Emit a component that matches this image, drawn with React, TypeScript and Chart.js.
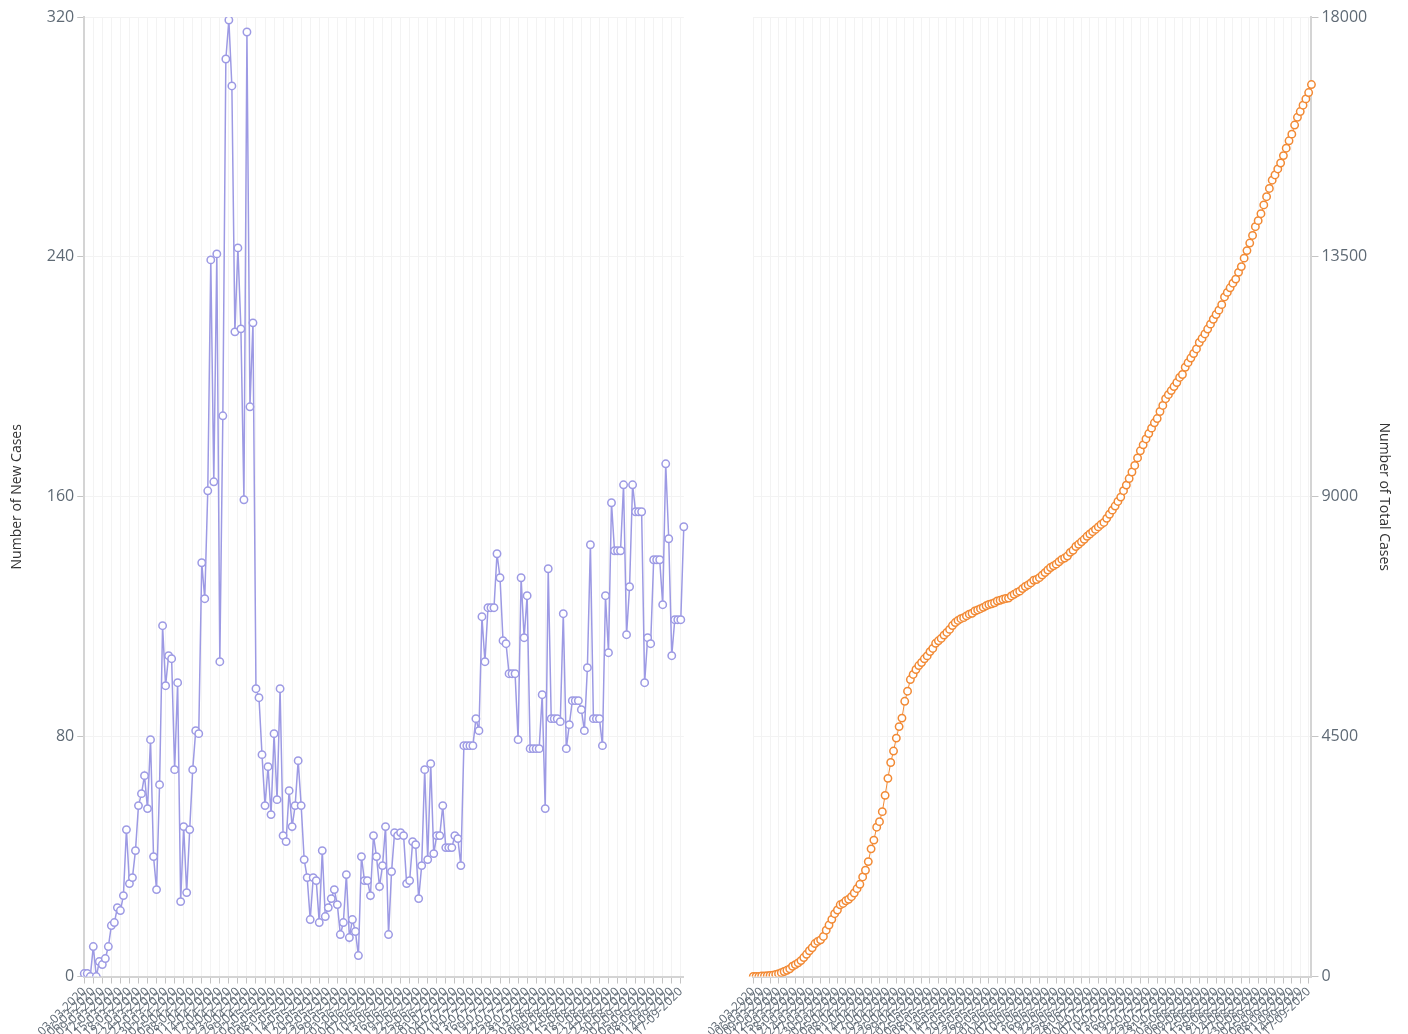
import React, { useEffect, useRef } from 'react';
import { Chart, registerables } from 'chart.js';

Chart.register(...registerables);

// ---- data ----
const START_YEAR = 2020;
const START_MONTH = 3; // March
const START_DAY = 3;

const newCases: number[] = [
  1, 1, 0, 10, 0, 5, 4, 6, 10, 17,
  18, 23, 22, 27, 49, 31, 33, 42, 57, 61,
  67, 56, 79, 40, 29, 64, 117, 97, 107, 106,
  69, 98, 25, 50, 28, 49, 69, 82, 81, 138,
  126, 162, 239, 165, 241, 105, 187, 306, 319, 297,
  215, 243, 216, 159, 315, 190, 218, 96, 93, 74,
  57, 70, 54, 81, 59, 96, 47, 45, 62, 50,
  57, 72, 57, 39, 33, 19, 33, 32, 18, 42,
  20, 23, 26, 29, 24, 14, 18, 34, 13, 19,
  15, 7, 40, 32, 32, 27, 47, 40, 30, 37,
  50, 14, 35, 48, 47, 48, 47, 31, 32, 45,
  44, 26, 37, 69, 39, 71, 41, 47, 47, 57,
  43, 43, 43, 47, 46, 37, 77, 77, 77, 77,
  86, 82, 120, 105, 123, 123, 123, 141, 133, 112,
  111, 101, 101, 101, 79, 133, 113, 127, 76, 76,
  76, 76, 94, 56, 136, 86, 86, 86, 85, 121,
  76, 84, 92, 92, 92, 89, 82, 103, 144, 86,
  86, 86, 77, 127, 108, 158, 142, 142, 142, 164,
  114, 130, 164, 155, 155, 155, 98, 113, 111, 139,
  139, 139, 124, 171, 146, 107, 119, 119, 119, 150,
];

const totalCases: number[] = [
  1, 2, 2, 12, 12, 17, 21, 27, 37, 54,
  72, 95, 117, 144, 193, 224, 257, 299, 356, 417,
  484, 540, 619, 659, 688, 752, 869, 966, 1073, 1179,
  1248, 1346, 1371, 1421, 1449, 1498, 1567, 1649, 1730, 1868,
  1994, 2156, 2395, 2560, 2801, 2906, 3093, 3399, 3718, 4015,
  4230, 4473, 4689, 4848, 5163, 5353, 5571, 5667, 5760, 5834,
  5891, 5961, 6015, 6096, 6155, 6251, 6298, 6343, 6405, 6455,
  6512, 6584, 6641, 6680, 6713, 6732, 6765, 6797, 6815, 6857,
  6877, 6900, 6926, 6955, 6979, 6993, 7011, 7045, 7058, 7077,
  7092, 7099, 7139, 7171, 7203, 7230, 7277, 7317, 7347, 7384,
  7434, 7448, 7483, 7531, 7578, 7626, 7673, 7704, 7736, 7781,
  7825, 7851, 7888, 7957, 7996, 8067, 8108, 8155, 8202, 8259,
  8302, 8345, 8388, 8435, 8481, 8518, 8595, 8672, 8749, 8826,
  8912, 8994, 9114, 9219, 9342, 9465, 9588, 9729, 9862, 9974,
  10085, 10186, 10287, 10388, 10467, 10600, 10713, 10840, 10916, 10992,
  11068, 11144, 11238, 11294, 11430, 11516, 11602, 11688, 11773, 11894,
  11970, 12054, 12146, 12238, 12330, 12419, 12501, 12604, 12748, 12834,
  12920, 13006, 13083, 13210, 13318, 13476, 13618, 13760, 13902, 14066,
  14180, 14310, 14474, 14629, 14784, 14939, 15037, 15150, 15261, 15400,
  15539, 15678, 15802, 15973, 16119, 16226, 16345, 16464, 16583, 16733,
];

const pad2 = (n: number) => (n < 10 ? '0' + n : '' + n);
const dateLabels: string[] = newCases.map((_, i) => {
  const d = new Date(Date.UTC(START_YEAR, START_MONTH - 1, START_DAY + i));
  return `${pad2(d.getUTCDate())}-${pad2(d.getUTCMonth() + 1)}-${d.getUTCFullYear()}`;
});

const newTicks = [0, 80, 160, 240, 320];
const totalTicks = [0, 4500, 9000, 13500, 18000];

const PURPLE = '#9d9ae4';
const ORANGE = '#f28a35';
const FONT = "'Open Sans', 'DejaVu Sans', sans-serif";
const GRID = '#f3f3f3';
const AXIS = '#d4d4d4';
const TICKMARK = '#c4c4c4';
const TICK_TEXT = '#5f6a75';

function xScale() {
  return {
    type: 'category' as const,
    offset: false,
    grid: { color: GRID, tickColor: TICKMARK, tickLength: 7, lineWidth: 1 },
    border: { color: AXIS, width: 2 },
    ticks: {
      autoSkip: false,
      maxRotation: 45,
      minRotation: 45,
      padding: 1,
      color: TICK_TEXT,
      font: { family: FONT, size: 12 },
      callback: function (this: any, val: any, index: number) {
        return index % 3 === 0 ? this.getLabelForValue(val) : null;
      },
    },
  };
}

function yScale(ticks: number[], title: string, position: 'left' | 'right', titlePad: any) {
  return {
    position,
    min: ticks[0],
    max: ticks[ticks.length - 1],
    afterBuildTicks: (scale: any) => {
      scale.ticks = ticks.map((v) => ({ value: v }));
    },
    grid: { color: GRID, tickColor: TICKMARK, tickLength: 7 },
    border: { color: AXIS, width: 2 },
    ticks: {
      color: TICK_TEXT,
      font: { family: FONT, size: 16 },
      padding: 3,
      callback: (v: any) => String(v),
    },
    title: {
      display: true,
      text: title,
      color: '#333',
      font: { family: FONT, size: 14 },
      padding: titlePad,
    },
  };
}

function useChart(ref: React.RefObject<HTMLCanvasElement>, make: () => any) {
  useEffect(() => {
    if (!ref.current) return;
    const chart = new Chart(ref.current, make());
    return () => chart.destroy();
  }, []);
}

export default function App() {
  const leftRef = useRef<HTMLCanvasElement>(null);
  const rightRef = useRef<HTMLCanvasElement>(null);

  useEffect(() => {
    document.body.style.margin = '0';
  }, []);

  useChart(leftRef as any, () => ({
    type: 'line',
    data: {
      labels: dateLabels,
      datasets: [
        {
          label: 'New Cases',
          data: newCases,
          borderColor: PURPLE,
          backgroundColor: '#ffffff',
          borderWidth: 1.5,
          pointBackgroundColor: '#ffffff',
          pointBorderColor: PURPLE,
          pointBorderWidth: 1.5,
          pointRadius: 3.7,
          tension: 0,
        },
      ],
    },
    options: {
      responsive: false,
      animation: false,
      layout: { padding: { top: 17, right: 2, left: 4, bottom: 0 } },
      plugins: { legend: { display: false }, tooltip: { enabled: false } },
      scales: {
        x: xScale(),
        y: yScale(newTicks, 'Number of New Cases', 'left', { top: 5, bottom: 18 }),
      },
    },
  }));

  useChart(rightRef as any, () => ({
    type: 'line',
    data: {
      labels: dateLabels,
      datasets: [
        {
          label: 'Total Cases',
          data: totalCases,
          borderColor: ORANGE,
          backgroundColor: '#ffffff',
          borderWidth: 1,
          pointBackgroundColor: '#ffffff',
          pointBorderColor: ORANGE,
          pointBorderWidth: 1.5,
          pointRadius: 3.7,
          tension: 0,
        },
      ],
    },
    options: {
      responsive: false,
      animation: false,
      layout: { padding: { top: 17, right: 0, left: 2, bottom: 0 } },
      plugins: { legend: { display: false }, tooltip: { enabled: false } },
      scales: {
        x: xScale(),
        y: yScale(totalTicks, 'Number of Total Cases', 'right', { top: 16, bottom: 5 }),
      },
    },
  }));

  return (
    <div
      style={{
        position: 'absolute',
        left: 0,
        top: 0,
        width: 1408,
        height: 1034,
        overflow: 'hidden',
        background: '#fff',
      }}
    >
      <canvas
        ref={leftRef}
        width={692}
        height={1040}
        style={{ position: 'absolute', left: 0, top: 0, display: 'block' }}
      />
      <canvas
        ref={rightRef}
        width={700}
        height={1040}
        style={{ position: 'absolute', left: 708, top: 0, display: 'block' }}
      />
    </div>
  );
}
